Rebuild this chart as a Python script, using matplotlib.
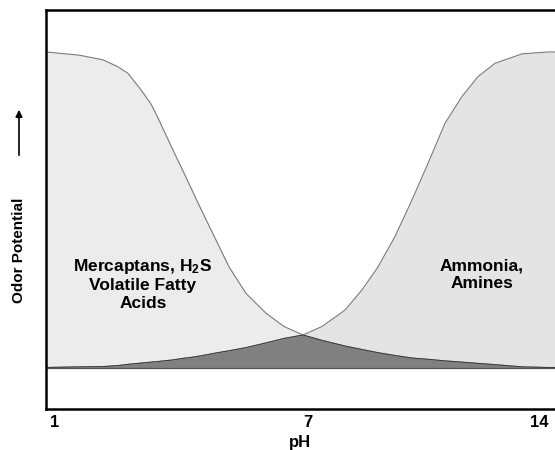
import numpy as np
import matplotlib
matplotlib.use('Agg')
import matplotlib.pyplot as plt

plt.rcParams['font.family'] = ['Liberation Sans', 'DejaVu Sans']
plt.rcParams['mathtext.fontset'] = 'custom'
plt.rcParams['mathtext.bf'] = 'Liberation Sans:bold'
plt.rcParams['mathtext.rm'] = 'Liberation Sans:bold'
plt.rcParams['mathtext.default'] = 'bf'

# pH position along the axis
ph = [1.000, 1.770, 2.331, 2.681, 2.915, 3.218, 3.452, 3.615, 3.755, 3.965, 4.199, 4.386,
      4.572, 4.782, 4.969, 5.273, 5.670, 6.137, 6.557, 7.000, 7.444, 7.981, 8.378, 8.752,
      9.148, 9.545, 9.919, 10.316, 10.713, 11.086, 11.483, 12.114, 12.721, 12.884]

# relative odor potential, acid side (mercaptans, H2S, VFA)
acid_odor = [1.000, 0.990, 0.975, 0.953, 0.932, 0.880, 0.835, 0.791, 0.750, 0.689, 0.623,
             0.569, 0.515, 0.456, 0.404, 0.319, 0.235, 0.172, 0.130, 0.103, 0.086, 0.068,
             0.057, 0.047, 0.038, 0.030, 0.026, 0.021, 0.017, 0.013, 0.009, 0.002, 0.000,
             0.000]

# relative odor potential, alkaline side (ammonia, amines)
base_odor = [0.000, 0.002, 0.003, 0.006, 0.010, 0.014, 0.017, 0.019, 0.021, 0.024, 0.029,
             0.032, 0.036, 0.041, 0.046, 0.053, 0.063, 0.078, 0.092, 0.103, 0.130, 0.182,
             0.246, 0.319, 0.415, 0.531, 0.647, 0.774, 0.859, 0.922, 0.964, 0.994, 1.000,
             1.000]

tick_pos = [1.21, 7.12, 12.51]
tick_labels = ['1', '7', '14']

overlap = np.minimum(acid_odor, base_odor)

fig = plt.figure(figsize=(5.55, 4.5), dpi=100)
ax = fig.add_axes([46 / 555, 41 / 450, 1 - 46 / 555, 399 / 450])

ax.fill_between(ph, 0, acid_odor, color='#ececec', lw=0)
ax.fill_between(ph, 0, base_odor, color='#e4e4e4', lw=0)
ax.fill_between(ph, 0, overlap, color='#808080', lw=0)
ax.plot(ph, acid_odor, color='#7a7a7a', lw=0.8)
ax.plot(ph, base_odor, color='#7a7a7a', lw=0.8)
ax.plot(ph, overlap, color='#3a3a3a', lw=0.7)
ax.axhline(0, color='#555555', lw=0.9)

ax.set_xlim(1, 12.884)
ax.set_ylim(-0.1315, 1.133)

for side in ['left', 'top', 'bottom']:
    ax.spines[side].set_linewidth(1.8)
ax.spines['right'].set_visible(False)

ax.set_yticks([])
ax.set_xticks(tick_pos, tick_labels, fontsize=12, fontweight='bold')
ax.tick_params(axis='x', length=0, pad=4)
ax.set_xlabel('pH', fontsize=12, fontweight='bold', labelpad=4)

ax.text(3.26, 0.265, 'Mercaptans, H$_2$S\nVolatile Fatty\nAcids', ha='center', va='center',
        fontsize=12.5, fontweight='bold', linespacing=1.2)
ax.text(11.18, 0.293, 'Ammonia,\nAmines', ha='center', va='center',
        fontsize=12.5, fontweight='bold', linespacing=1.2)

fig.text(19 / 555, 200 / 450, 'Odor Potential', rotation=90, ha='center', va='center',
         fontsize=11, fontweight='bold')
fig.add_artist(matplotlib.patches.FancyArrowPatch((19 / 555, 292 / 450), (19 / 555, 343 / 450),
                                                  transform=fig.transFigure, arrowstyle='-|>',
                                                  mutation_scale=10, color='black', lw=1.2))

fig.savefig('out.png', dpi=100)
